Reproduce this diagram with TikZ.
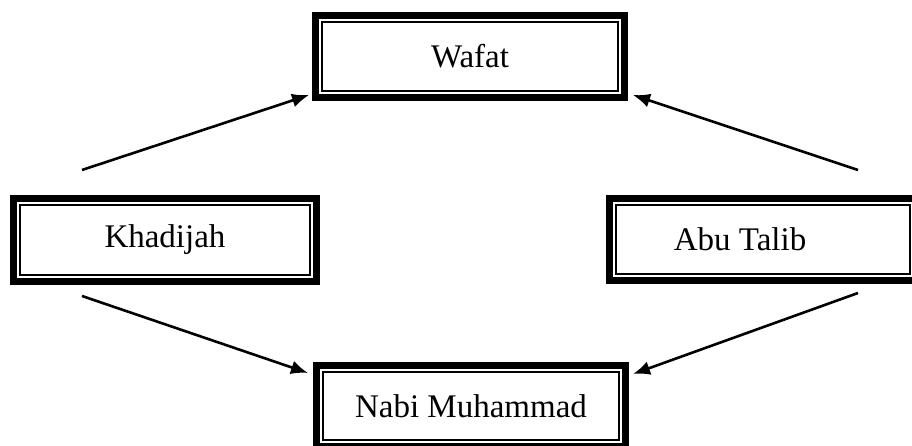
\documentclass[tikz,border=0pt]{standalone}
\usepackage{fontspec}
\setmainfont{Liberation Serif}
\usetikzlibrary{arrows.meta}
\tikzset{
  framebox/.style={
    inner sep=0pt, outer sep=0pt, fill=white,
    minimum width=#1, minimum height=89pt,
    font=\fontsize{33}{40}\selectfont,
    path picture={
      \draw[line width=7pt]
        ([shift={(3.5pt,-3.5pt)}]path picture bounding box.north west) rectangle
        ([shift={(-3.5pt,3.5pt)}]path picture bounding box.south east);
      \draw[line width=2pt]
        ([shift={(10pt,-10pt)}]path picture bounding box.north west) rectangle
        ([shift={(-10pt,10pt)}]path picture bounding box.south east);
    }
  },
  conn/.style={line width=2.6pt, -{Latex[length=17pt,width=14pt]}}
}
\begin{document}
\begin{tikzpicture}[x=1pt,y=1pt]
\useasboundingbox (0,0) rectangle (912,446);
\node[framebox=316pt] (w) at (470,389.5) {Wafat};
\node[framebox=310pt, minimum height=90pt] (k) at (165,206) {Khadijah};
\node[framebox=314pt] (a) at (763,206.5) {Abu Talib\kern46pt};
\node[framebox=316pt, minimum height=88pt] (n) at (471,40) {Nabi Muhammad};
\coordinate (k1) at (82,276);
\coordinate (a1) at (858,276);
\coordinate (k2) at (82,150);
\coordinate (a2) at (858,153);
\draw[conn] (k1) -- ([shift={(-3pt,6pt)}]w.south west);
\draw[conn] (a1) -- ([shift={(5pt,6pt)}]w.south east);
\draw[conn] (k2) -- ([shift={(-5pt,-11pt)}]n.north west);
\draw[conn] (a2) -- ([shift={(4pt,-12pt)}]n.north east);
\end{tikzpicture}
\end{document}
